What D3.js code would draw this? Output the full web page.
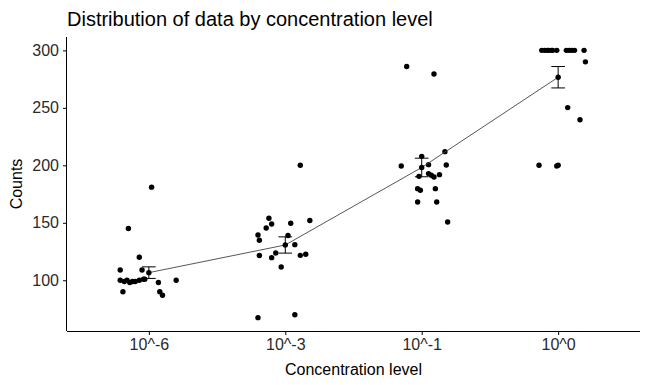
<!DOCTYPE html>
<html lang="en">
<head>
  <meta charset="UTF-8" />
  <title>Distribution of data by concentration level</title>
  <script src="https://cdn.jsdelivr.net/npm/d3@7"></script>
  <style>
    body { margin: 0; background: #fff; }
    svg { display: block; font-family: "Liberation Sans", Arial, sans-serif; }
    .axis path, .axis line { stroke: #000; }
    .axis text { fill: #2a2a2a; font-size: 16px; }
  </style>
</head>
<body>
<div id="chart"></div>
<script>
// categories on the x axis
const levels = ["10^-6", "10^-3", "10^-1", "10^0"];

// counts per level
const counts_1e6 = [181, 145, 120, 109, 109, 100, 99, 100, 98, 99, 99, 100, 101, 101, 98, 100, 90, 90, 87];
const counts_1e3 = [200, 154, 149, 145.5, 149.6, 152, 139.4, 134.8, 139, 131, 121.5, 119.7, 123.7, 121.7, 122.6, 111.6, 67.5, 70];
const counts_1e1 = [286, 279.4, 207.8, 211.9, 199.4, 200.6, 200.3, 190.4, 192.8, 191.3, 189.9, 191.9, 179.7, 178.3, 179.7, 168.1, 168.1, 150.7];
const counts_1e0 = [300, 300, 300, 300, 300, 300, 300, 300, 300, 300, 300, 300, 290, 250.2, 239.7, 200, 199.4, 200];

// horizontal jitter of each point, in category units (as in the picture)
const jitter_1e6 = [0.02, -0.15, -0.07, -0.21, -0.05, -0.21, -0.18, -0.16, -0.14, -0.12, -0.10, -0.07, -0.04, -0.03, 0.07, 0.20, -0.19, 0.08, 0.10];
const jitter_1e3 = [0.11, -0.12, -0.10, -0.14, 0.04, 0.18, -0.20, -0.19, 0.02, 0.07, -0.19, -0.10, -0.07, 0.11, 0.15, -0.03, -0.20, 0.07];
const jitter_1e1 = [-0.11, 0.09, 0.00, 0.17, -0.15, 0.05, 0.18, -0.02, 0.05, 0.07, 0.09, 0.13, -0.03, -0.01, 0.10, -0.03, 0.11, 0.19];
const jitter_1e0 = [-0.12, -0.10, -0.08, -0.07, -0.05, -0.04, -0.01, 0.06, 0.08, 0.10, 0.12, 0.19, 0.20, 0.07, 0.16, -0.14, -0.01, 0.00];

const yTicks = [100, 150, 200, 250, 300];

const groups = [
  { level: levels[0], values: counts_1e6, jit: jitter_1e6 },
  { level: levels[1], values: counts_1e3, jit: jitter_1e3 },
  { level: levels[2], values: counts_1e1, jit: jitter_1e1 },
  { level: levels[3], values: counts_1e0, jit: jitter_1e0 }
];

const W = 650, H = 385;
const panel = { left: 67, right: 640, top: 37, bottom: 331 };

const svg = d3.select("#chart").append("svg")
  .attr("width", W)
  .attr("height", H);

const x = d3.scalePoint()
  .domain(levels)
  .range([panel.left, panel.right])
  .padding(0.6);
const step = x.step();

const allVals = groups.flatMap(g => g.values);
const [lo, hi] = d3.extent(allVals);
const pad = (hi - lo) * 0.05;
const y = d3.scaleLinear()
  .domain([lo - pad, hi + pad])
  .range([panel.bottom, panel.top]);

// axes
svg.append("g")
  .attr("class", "axis")
  .attr("transform", `translate(0,${panel.bottom})`)
  .call(d3.axisBottom(x).tickSize(4).tickPadding(4).tickSizeOuter(0))
  .call(g => g.select(".domain").attr("d", `M${panel.left},0.5H${panel.right}`));

svg.append("g")
  .attr("class", "axis")
  .attr("transform", `translate(${panel.left},0)`)
  .call(d3.axisLeft(y).tickValues(yTicks).tickSize(4).tickPadding(4).tickSizeOuter(0))
  .call(g => g.select(".domain").attr("d", `M-0.5,${panel.top}V${panel.bottom}`));

svg.selectAll(".axis").attr("font-family", null).attr("font-size", null);

// summary: mean and standard error per group
const summary = groups.map(g => {
  const m = d3.mean(g.values);
  const se = d3.deviation(g.values) / Math.sqrt(g.values.length);
  return { level: g.level, mean: m, lo: m - se, hi: m + se };
});

// points
groups.forEach(g => {
  svg.append("g").selectAll("circle")
    .data(g.values)
    .join("circle")
    .attr("cx", (d, i) => x(g.level) + g.jit[i] * step)
    .attr("cy", d => y(d))
    .attr("r", 2.7)
    .attr("fill", "#000");
});

// line through means
svg.append("path")
  .datum(summary)
  .attr("fill", "none")
  .attr("stroke", "#444")
  .attr("stroke-width", 0.9)
  .attr("d", d3.line().x(d => x(d.level)).y(d => y(d.mean)));

// error bars
const barW = step * 0.1;
const eb = svg.append("g").attr("stroke", "#000").attr("stroke-width", 1);
summary.forEach(s => {
  const cx = x(s.level);
  eb.append("line").attr("x1", cx).attr("x2", cx).attr("y1", y(s.lo)).attr("y2", y(s.hi));
  eb.append("line").attr("x1", cx - barW / 2).attr("x2", cx + barW / 2).attr("y1", y(s.lo)).attr("y2", y(s.lo));
  eb.append("line").attr("x1", cx - barW / 2).attr("x2", cx + barW / 2).attr("y1", y(s.hi)).attr("y2", y(s.hi));
});

// mean points
svg.append("g").selectAll("circle")
  .data(summary)
  .join("circle")
  .attr("cx", d => x(d.level))
  .attr("cy", d => y(d.mean))
  .attr("r", 2.7)
  .attr("fill", "#000");

// titles
svg.append("text")
  .attr("x", panel.left)
  .attr("y", 26)
  .attr("font-size", 20)
  .attr("fill", "#000")
  .text("Distribution of data by concentration level");

svg.append("text")
  .attr("x", (panel.left + panel.right) / 2)
  .attr("y", 375)
  .attr("text-anchor", "middle")
  .attr("font-size", 16)
  .text("Concentration level");

svg.append("text")
  .attr("transform", `translate(22,${(panel.top + panel.bottom) / 2}) rotate(-90)`)
  .attr("text-anchor", "middle")
  .attr("font-size", 16)
  .text("Counts");
</script>
</body>
</html>
